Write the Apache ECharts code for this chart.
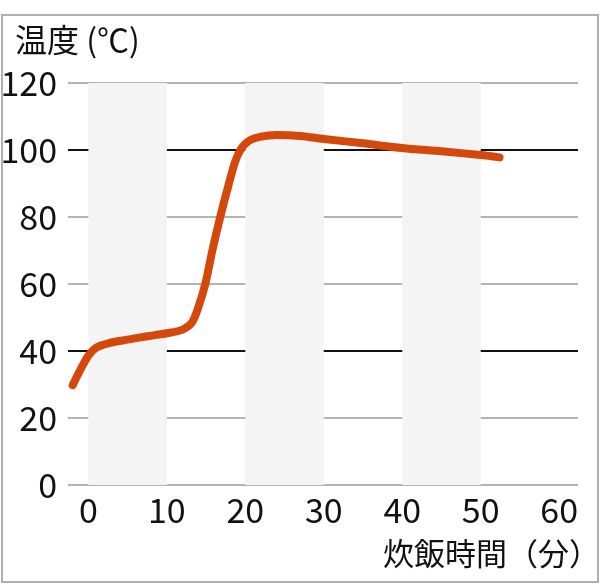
<!DOCTYPE html>
<html><head><meta charset="utf-8">
<script src="https://cdn.jsdelivr.net/npm/echarts@6/dist/echarts.min.js"></script>
<style>html,body{margin:0;padding:0;background:#fff}#c{width:600px;height:588px}</style>
</head><body><div id="c"></div>
<script>
const times = [-2, -1, 0, 1, 2.5, 5, 7.5, 10, 12, 13.2, 14, 14.9, 15.8, 16.8, 17.8, 18.7, 19.5, 20.5, 22, 24, 27, 30, 35, 40, 45, 50, 52.4];
const temps = [29.8, 34.5, 38.6, 41, 42.3, 43.4, 44.4, 45.3, 46.4, 48.5, 53, 60, 70, 80, 89, 96.5, 100.5, 102.8, 104, 104.5, 104.2, 103.3, 102, 100.6, 99.6, 98.5, 97.8];
const xTicks = [0, 10, 20, 30, 40, 50, 60];
const yTicks = [0, 20, 40, 60, 80, 100, 120];
const bands = [[0, 10], [20, 30], [40, 50]];
const yTitle = '温度 (℃)';
const xTitle = '炊飯時間（分）';

const chart = echarts.init(document.getElementById('c'), null, {renderer: 'canvas'});
const numFont = "'Noto Sans CJK JP', sans-serif";
const cjkFont = "'Noto Sans CJK JP', sans-serif";
chart.setOption({
  animation: false,
  backgroundColor: '#fff',
  title: [
    {text: yTitle, left: 10, top: 19, textStyle: {fontFamily: cjkFont, fontSize: 32, fontWeight: 'normal', color: '#111'}},
    {text: xTitle, left: 378, top: 533, textStyle: {fontFamily: cjkFont, fontSize: 31, fontWeight: 'normal', color: '#111'}}
  ],
  graphic: [{type: 'rect', shape: {x: 2, y: 15, width: 596, height: 567}, style: {fill: 'none', stroke: '#b0b0b0', lineWidth: 2}, z: 100}],
  grid: {left: 68, right: 22, top: 83, bottom: 103, outerBoundsMode: 'none'},
  xAxis: {
    type: 'value', min: -2.6, max: 62.4,
    axisLine: {show: false}, axisTick: {show: false}, splitLine: {show: false},
    axisLabel: {customValues: xTicks, margin: 8, fontFamily: numFont, fontSize: 34, color: '#111'}
  },
  yAxis: {
    type: 'value', min: yTicks[0], max: yTicks[yTicks.length - 1], interval: 20,
    axisLine: {show: false}, axisTick: {show: false},
    axisLabel: {margin: 11, fontFamily: numFont, fontSize: 34, color: '#111'},
    splitLine: {show: true, lineStyle: {color: ['#b4b4b4', '#b4b4b4', '#111', '#b4b4b4', '#b4b4b4', '#111', '#b4b4b4'], width: 2}}
  },
  series: [
    {type: 'line', z: -1, data: [], silent: true,
     markArea: {silent: true, itemStyle: {color: '#f4f4f4'}, data: bands.map(b => [{xAxis: b[0], yAxis: yTicks[0]}, {xAxis: b[1], yAxis: yTicks[yTicks.length - 1]}])}},
    {type: 'line', data: times.map((t, i) => [t, temps[i]]), smooth: 0.3, symbol: 'none', clip: false,
     lineStyle: {color: '#d4480c', width: 8, cap: 'round', join: 'round'}}
  ]
});
</script></body></html>
